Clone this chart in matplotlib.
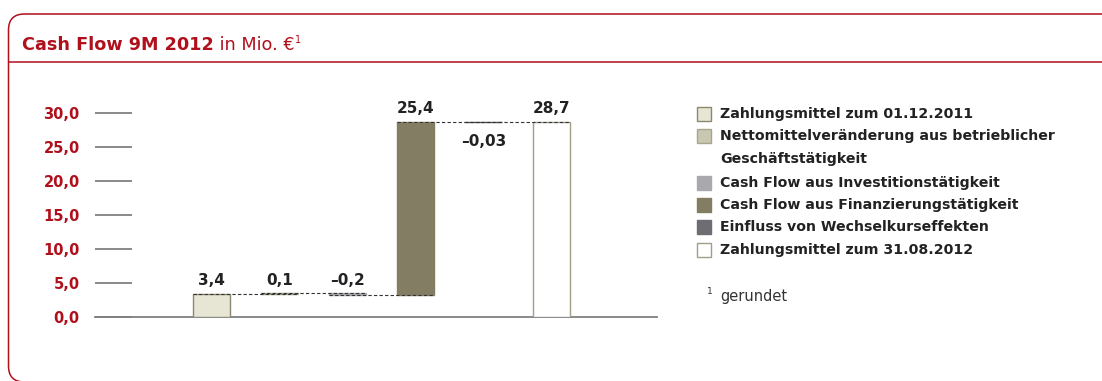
import numpy as np
import matplotlib
matplotlib.use('Agg')
import matplotlib.pyplot as plt
from matplotlib.patches import FancyBboxPatch, Rectangle
from matplotlib.transforms import IdentityTransform

plt.rcParams['font.family'] = ['DejaVu Sans']

# data (Mio. EUR)
steps = [3.4, 0.1, -0.2, 25.4, -0.03, 28.7]
labels = ['3,4', '0,1', '\u20130,2', '25,4', '\u20130,03', '28,7']
is_total = [True, False, False, False, False, True]
colors = ['#e7e5d3', '#c9c6b1', '#a9a9ad', '#837e63', '#6d6d73', '#ffffff']
edges = ['#8c8870', '#a8a48e', '#a9a9ad', '#837e63', '#6d6d73', '#a29e88']
legend_labels = ['Zahlungsmittel zum 01.12.2011',
                 'Nettomittelveränderung aus betrieblicher\nGeschäftstätigkeit',
                 'Cash Flow aus Investitionstätigkeit',
                 'Cash Flow aus Finanzierungstätigkeit',
                 'Einfluss von Wechselkurseffekten',
                 'Zahlungsmittel zum 31.08.2012']
yticks = [0, 5, 10, 15, 20, 25, 30]
ytick_labels = ['0,0', '5,0', '10,0', '15,0', '20,0', '25,0', '30,0']

RED = '#b0101c'
W, H = 1102, 381

fig = plt.figure(figsize=(W / 100, H / 100), dpi=100)

# frame
frame = FancyBboxPatch((8.5, -1), W + 30, H - 13, boxstyle='round,pad=0,rounding_size=16',
                       transform=IdentityTransform(), fill=False, edgecolor=RED, lw=1.1)
fig.add_artist(frame)
fig.add_artist(plt.Line2D([8.5 / W, 1], [1 - 62 / H, 1 - 62 / H], transform=fig.transFigure,
                          color=RED, lw=1.1))

# title
r = fig.canvas.get_renderer()
t1 = fig.text(22 / W, 1 - 45 / H, 'Cash Flow 9M 2012', color=RED, fontsize=12.7,
              fontweight='bold', va='center')
x1 = t1.get_window_extent(r).x1
t2 = fig.text(x1 / W, 1 - 45 / H, ' in Mio. \u20ac', color=RED, fontsize=12.7, va='center')
x2 = t2.get_window_extent(r).x1
fig.text((x2 + 1) / W, 1 - 40 / H, '1', color=RED, fontsize=7, va='center')

# axes
ax_left, ax_right = 95, 657
y0px, y30px = 317, 113
ppu = (y0px - y30px) / 30.0
top_px = 95
ax = fig.add_axes([ax_left / W, (H - y0px) / H, (ax_right - ax_left) / W, (y0px - top_px) / H])
ax.set_ylim(0, (y0px - top_px) / ppu)
x = np.arange(len(steps))
ax.set_xlim(-1.71, 6.55)

bottoms, heights, ends = [], [], []
level = 0.0
for v, tot in zip(steps, is_total):
    if tot:
        bottoms.append(0.0)
        heights.append(v)
        level = v
    else:
        bottoms.append(min(level, level + v))
        heights.append(abs(v))
        level = level + v
    ends.append(level)

bw = 0.55
ax.bar(x, heights, bottom=bottoms, width=bw, color=colors, edgecolor=edges, lw=1.0, zorder=3)

# connectors
for i in range(len(steps) - 1):
    ax.plot([x[i] - bw / 2, x[i + 1] + bw / 2], [ends[i], ends[i]], ls=(0, (3, 2)),
            color='#333333', lw=0.8, zorder=4)

# value labels
for i, (lab, v) in enumerate(zip(labels, steps)):
    top = bottoms[i] + heights[i]
    if v < 0 and i == 4:
        ax.annotate(lab, (x[i], top), xytext=(0, -9), textcoords='offset points',
                    ha='center', va='top', fontsize=11, fontweight='bold', color='#222222')
    else:
        ax.annotate(lab, (x[i], max(top, ends[i - 1] if i > 0 else 0)), xytext=(0, 4),
                    textcoords='offset points', ha='center', va='bottom', fontsize=11,
                    fontweight='bold', color='#222222')

ax.set_yticks(yticks)
ax.set_yticklabels(ytick_labels)
ax.set_xticks([])
ax.tick_params(axis='y', direction='in', length=26.6, width=1.3, color='#808080',
               pad=11, labelsize=10.5, labelcolor=RED)
for lbl in ax.get_yticklabels():
    lbl.set_fontweight('bold')
for s in ['left', 'top', 'right']:
    ax.spines[s].set_visible(False)
ax.spines['bottom'].set_color('#808080')
ax.spines['bottom'].set_linewidth(1.3)
ax.set_facecolor('none')

# legend
rows = [114, 136, 183, 205, 227, 250]
for lab, c, e, yy in zip(legend_labels, colors, edges, rows):
    fig.add_artist(Rectangle((697, H - yy - 7), 14, 14, transform=IdentityTransform(),
                             facecolor=c, edgecolor=e, lw=1.0))
    if '\n' in lab:
        fig.text(720 / W, 1 - (yy - 7) / H, lab, fontsize=10.2, fontweight='bold',
                 color='#222222', va='top', linespacing=1.85)
    else:
        fig.text(720 / W, 1 - yy / H, lab, fontsize=10.2, fontweight='bold',
                 color='#222222', va='center')

fig.text(707 / W, 1 - 291 / H, '1', fontsize=6.5, color='#333333', va='center')
fig.text(720 / W, 1 - 297 / H, 'gerundet', fontsize=10.5, color='#333333', va='center')

fig.savefig('out.png', dpi=100)
